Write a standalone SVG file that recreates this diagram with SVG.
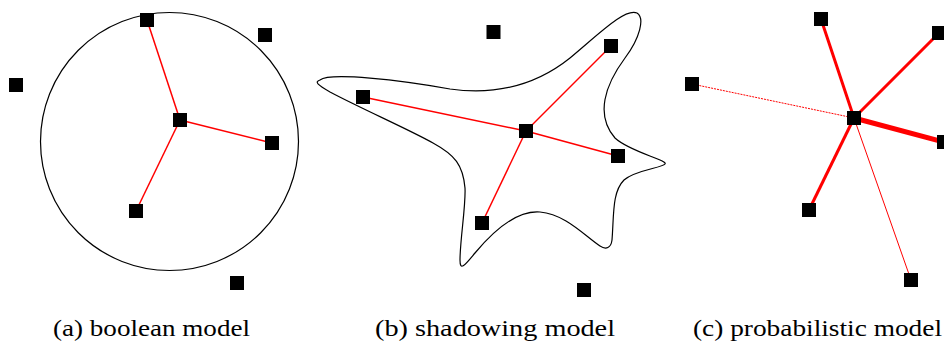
<svg xmlns="http://www.w3.org/2000/svg" width="944" height="342" viewBox="0 0 944 342">
<style>
.e{stroke:#ff0000;fill:none;stroke-width:1.5}
.r{fill:none;stroke:#000;stroke-width:1.2}
.cap{font-size:24px;fill:#000}
</style>
<defs><rect id="sq" x="-7" y="-7" width="14" height="14"/></defs>
<g id="ranges">
<circle id="range-a" class="r" cx="169.5" cy="141.5" r="129"/>
<path id="range-b" class="r" d="M320,80 C330,72 400,80 450,89 C500,96 540,82 570,58 C600,33 625,8 637,13 C645,18 640,38 625,58 C605,85 595,115 615,138 C630,152 668,160 665,164 C662,168 635,170 624,180 C612,192 614,215 612,240 C611,248 606,250 600,246 C585,236 565,214 540,212 C515,210 490,235 475,253 C465,265 460,272 460,260 C460,240 466,205 465,188 C463,165 455,155 433,143 C410,130 360,108 330,92 C318,85 314,82 320,80 Z"/>
</g>
<g id="connectors">
<line class="e" x1="180" y1="120" x2="147" y2="20"/>
<line class="e" x1="180" y1="120" x2="272" y2="143"/>
<line class="e" x1="180" y1="120" x2="136" y2="211"/>
<line class="e" x1="526" y1="131" x2="363" y2="97"/>
<line class="e" x1="526" y1="131" x2="611" y2="46"/>
<line class="e" x1="526" y1="131" x2="618" y2="156"/>
<line class="e" x1="526" y1="131" x2="482" y2="223"/>
<line class="e" style="stroke-width:3" x1="854" y1="118" x2="821" y2="19"/>
<line class="e" style="stroke-width:3" x1="854" y1="118" x2="939" y2="33"/>
<line class="e" style="stroke-width:1;stroke-dasharray:2,1" x1="854" y1="118" x2="692" y2="84"/>
<line class="e" style="stroke-width:5" x1="854" y1="118" x2="944" y2="142"/>
<line class="e" style="stroke-width:3" x1="854" y1="118" x2="809" y2="210"/>
<line class="e" style="stroke-width:1" x1="854" y1="118" x2="911" y2="280"/>
</g>
<g id="nodes-a">
<use id="a1" href="#sq" x="147" y="20"/>
<use id="a2" href="#sq" x="265" y="35"/>
<use id="a3" href="#sq" x="16" y="85"/>
<use id="a4" href="#sq" x="180" y="120"/>
<use id="a5" href="#sq" x="272" y="143"/>
<use id="a6" href="#sq" x="136" y="211"/>
<use id="a7" href="#sq" x="237" y="283"/>
</g>
<g id="nodes-b">
<use id="b1" href="#sq" x="493.5" y="32"/>
<use id="b2" href="#sq" x="611" y="46"/>
<use id="b3" href="#sq" x="363" y="97"/>
<use id="b4" href="#sq" x="526" y="131"/>
<use id="b5" href="#sq" x="618" y="156"/>
<use id="b6" href="#sq" x="482" y="223"/>
<use id="b7" href="#sq" x="584" y="290"/>
</g>
<g id="nodes-c">
<use id="c1" href="#sq" x="821" y="19"/>
<use id="c2" href="#sq" x="939" y="33"/>
<use id="c3" href="#sq" x="692" y="84"/>
<use id="c4" href="#sq" x="854" y="118"/>
<use id="c5" href="#sq" x="944" y="142"/>
<use id="c6" href="#sq" x="809" y="210"/>
<use id="c7" href="#sq" x="911" y="280"/>
</g>
<g id="captions" font-family="Liberation Serif, Times New Roman, serif">
<text class="cap" x="53" y="336" textLength="197" lengthAdjust="spacingAndGlyphs">(a)  boolean model</text>
<text class="cap" x="375" y="336" textLength="240" lengthAdjust="spacingAndGlyphs">(b)  shadowing model</text>
<text class="cap" x="693" y="336" textLength="249" lengthAdjust="spacingAndGlyphs">(c)  probabilistic model</text>
</g>
</svg>
